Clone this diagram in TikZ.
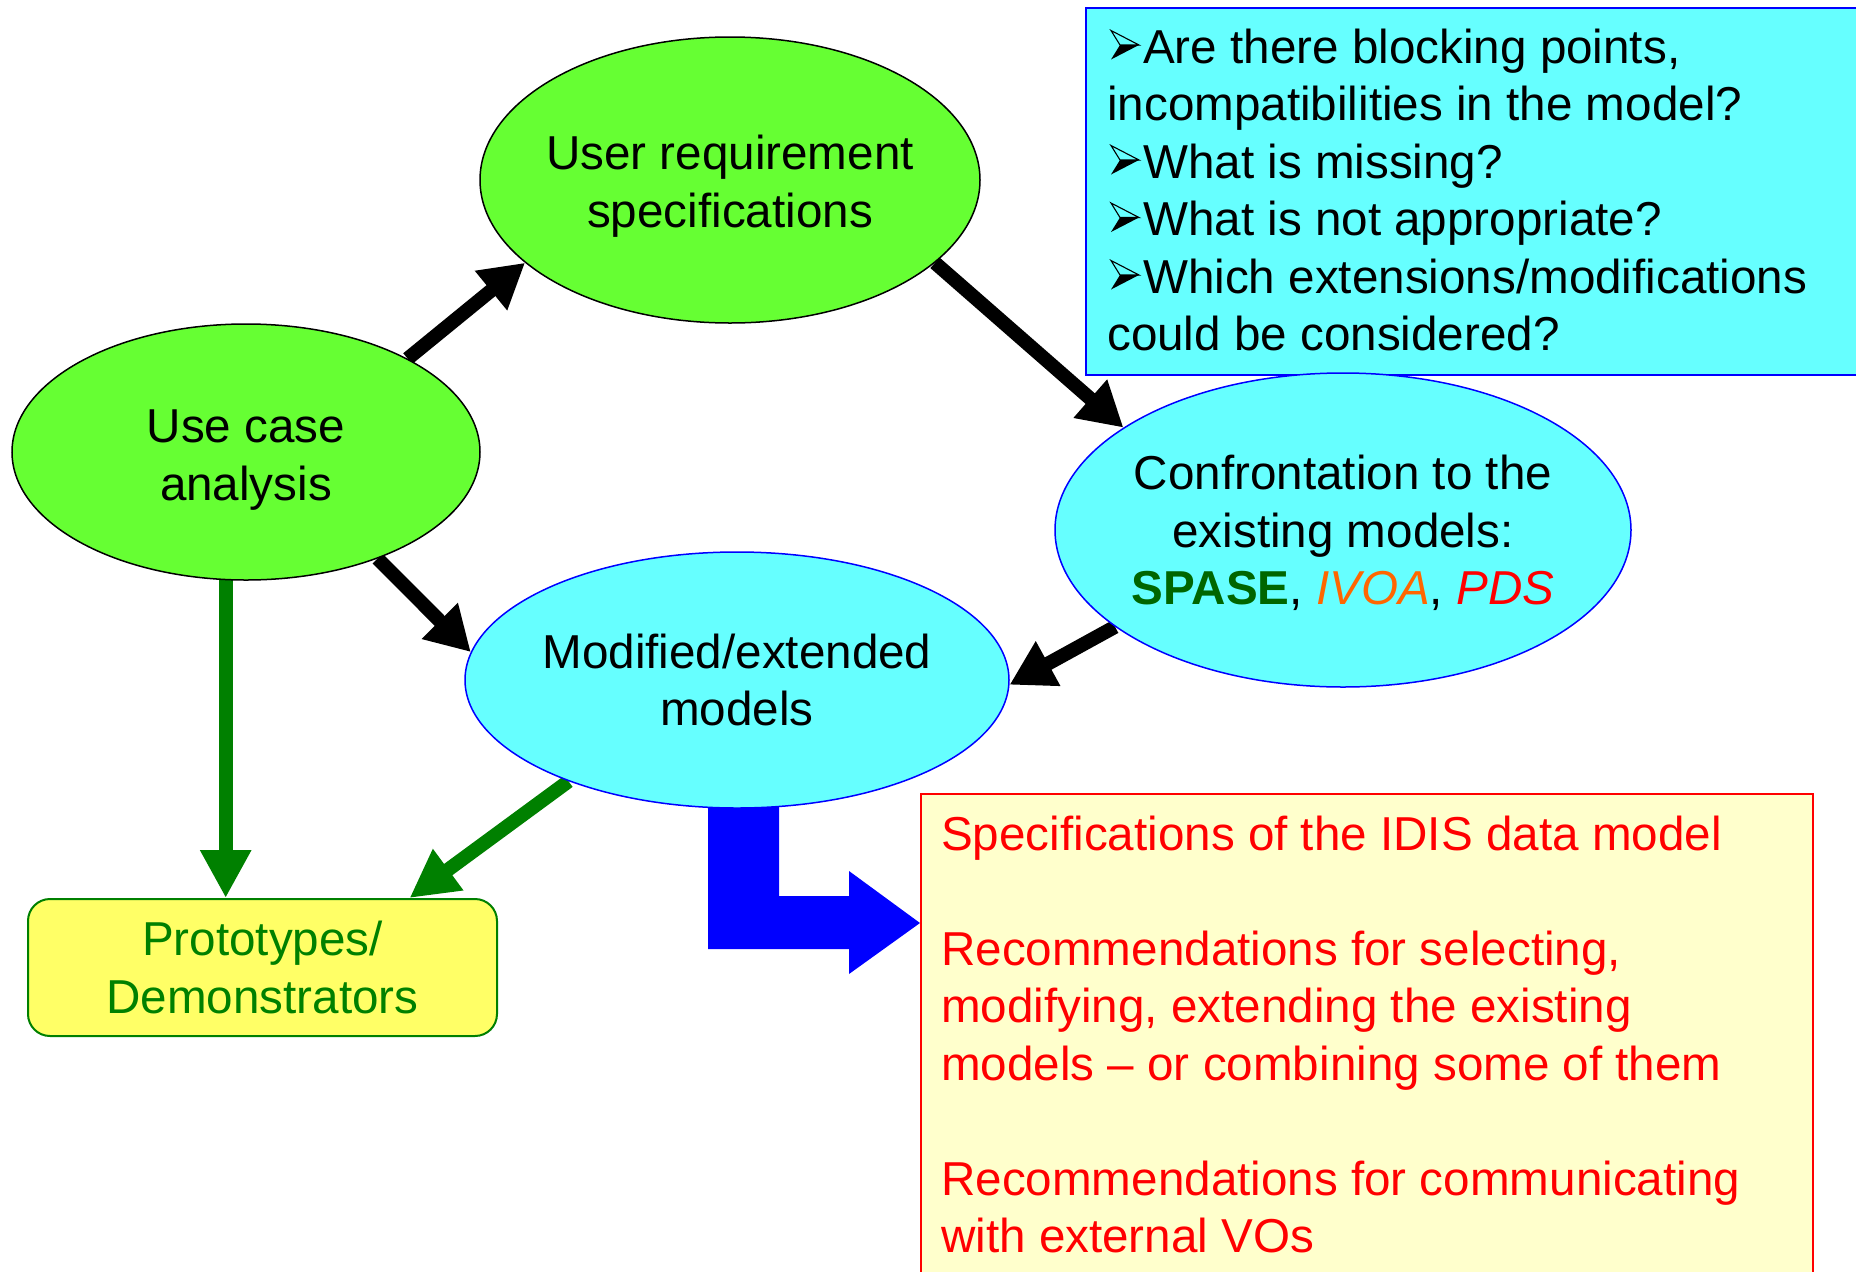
\documentclass[tikz,border=0pt]{standalone}
\usepackage{fontspec}
\setmainfont{Liberation Sans}
\usetikzlibrary{shapes.geometric,arrows.meta,calc}
\definecolor{ellgreen}{HTML}{66FF33}
\definecolor{cyanfill}{HTML}{66FFFF}
\definecolor{pureblue}{HTML}{0000FF}
\definecolor{yelfill}{HTML}{FFFF66}
\definecolor{darkgr}{HTML}{008000}
\definecolor{spasegr}{HTML}{006600}
\definecolor{ivoaor}{HTML}{FF6600}
\definecolor{purered}{HTML}{FF0000}
\definecolor{paleyel}{HTML}{FFFFCC}
\pgfdeclarelayer{bg}
\pgfsetlayers{bg,main}
\newcommand{\bulsp}{\hspace*{36pt}}
\begin{document}
\begin{tikzpicture}[x=1pt,y=-1pt,
  big/.style={font=\fontsize{47.6}{57.5}\selectfont},
  greenell/.style={ellipse, draw=black, line width=1.5pt, fill=ellgreen, inner sep=0pt},
  cyanell/.style={ellipse, draw=pureblue, line width=1.5pt, fill=cyanfill, inner sep=0pt},
  ctext/.style={big, align=center, inner sep=0pt},
  ltext/.style={big, anchor=base west, inner sep=0pt},
  blackarrow/.style={draw=black, line width=14pt, -{Triangle[length=44pt,width=48pt]}},
  greenarrow/.style={draw=darkgr, line width=14pt, -{Triangle[length=48pt,width=48pt]}},
  bulletpic/.pic={
    \draw[line width=1.1pt, line join=miter] (0,-14.5) -- (28,0) -- (9,0) -- cycle;
    \fill[black] (0,14.5) -- (28,0) -- (9,0) -- cycle;
  },
]
\useasboundingbox (0,0) rectangle (1856,1272);

% boxes
\node[draw=pureblue, line width=2pt, fill=cyanfill, anchor=north west, minimum width=780, minimum height=367, inner sep=0pt] (qbox) at (1085,7) {};
\node[draw=purered, line width=2pt, fill=paleyel, anchor=north west, minimum width=892, minimum height=490, inner sep=0pt] (rec) at (920,793) {};
\node[draw=darkgr, line width=2pt, fill=yelfill, anchor=north west, minimum width=469, minimum height=137, rounded corners=22pt, inner sep=0pt] (proto) at (27,898) {};

% ellipses
\node[greenell, minimum width=468, minimum height=256] (uc) at (246,452) {};
\node[greenell, minimum width=500, minimum height=286] (ur) at (730,180) {};
\node[cyanell, minimum width=576, minimum height=314] (cf) at (1343,530) {};
\node[cyanell, minimum width=544, minimum height=256] (md) at (737,680) {};

% texts
\node[ctext, yshift=-8pt] at (uc) {Use case\\analysis};
\node[ctext, yshift=-6pt] at (ur) {User requirement\\specifications};
\node[ctext, yshift=-3pt] at (cf) {Confrontation to the\\existing models:\\{\bfseries\color{spasegr}SPASE}, {\itshape\color{ivoaor}IVOA}, {\itshape\color{purered}PDS}};
\node[ctext] at (md) {Modified/extended\\models};
\node[ctext, text=darkgr] at (proto) {Prototypes/\\Demonstrators};

\node[ltext] (qtext) at (1107,63) {\vtop{\baselineskip=57.5pt
  \hbox{\bulsp Are there blocking points,}
  \hbox{incompatibilities in the model?}
  \hbox{\bulsp What is missing?}
  \hbox{\bulsp What is not appropriate?}
  \hbox{\bulsp Which extensions/modifications}
  \hbox{could be considered?}}};
\pic at ($(qtext.base west)+(4,-18)$) {bulletpic};
\pic at ($(qtext.base west)+(4,97)$) {bulletpic};
\pic at ($(qtext.base west)+(4,154.5)$) {bulletpic};
\pic at ($(qtext.base west)+(4,212)$) {bulletpic};

\node[ltext, text=purered] (rtext) at (941,850) {\vtop{\baselineskip=57.5pt
  \hbox{Specifications of the IDIS data model}
  \hbox{}
  \hbox{Recommendations for selecting,}
  \hbox{modifying, extending the existing}
  \hbox{models – or combining some of them}
  \hbox{}
  \hbox{Recommendations for communicating}
  \hbox{with external VOs}}};

% connectors
\begin{pgfonlayer}{bg}
\fill[white] (0,0) rectangle (1856,1272);
\coordinate (btip) at ($(rec.north west)+(0,130)$);
\fill[pureblue] (708,800) -- (708,949) -- (849,949) -- (849,974) -- (btip) -- (849,871) -- (849,896) -- (779,896) -- (779,800) -- cycle;
\draw[blackarrow] (uc.30.9) -- (ur.202.3);
\draw[blackarrow] (ur.-22.7) -- (cf.155.7);
\draw[blackarrow] (uc.-39.5) -- (md.174.4);
\draw[blackarrow] (cf.203.1) -- (md.-1);
\draw[greenarrow] (uc.-99.75) -- (uc.-99.75 |- proto.north);
\draw[greenarrow] (md.211.5) -- ($(proto.north)+(147,0)$);
\end{pgfonlayer}
\end{tikzpicture}
\end{document}
